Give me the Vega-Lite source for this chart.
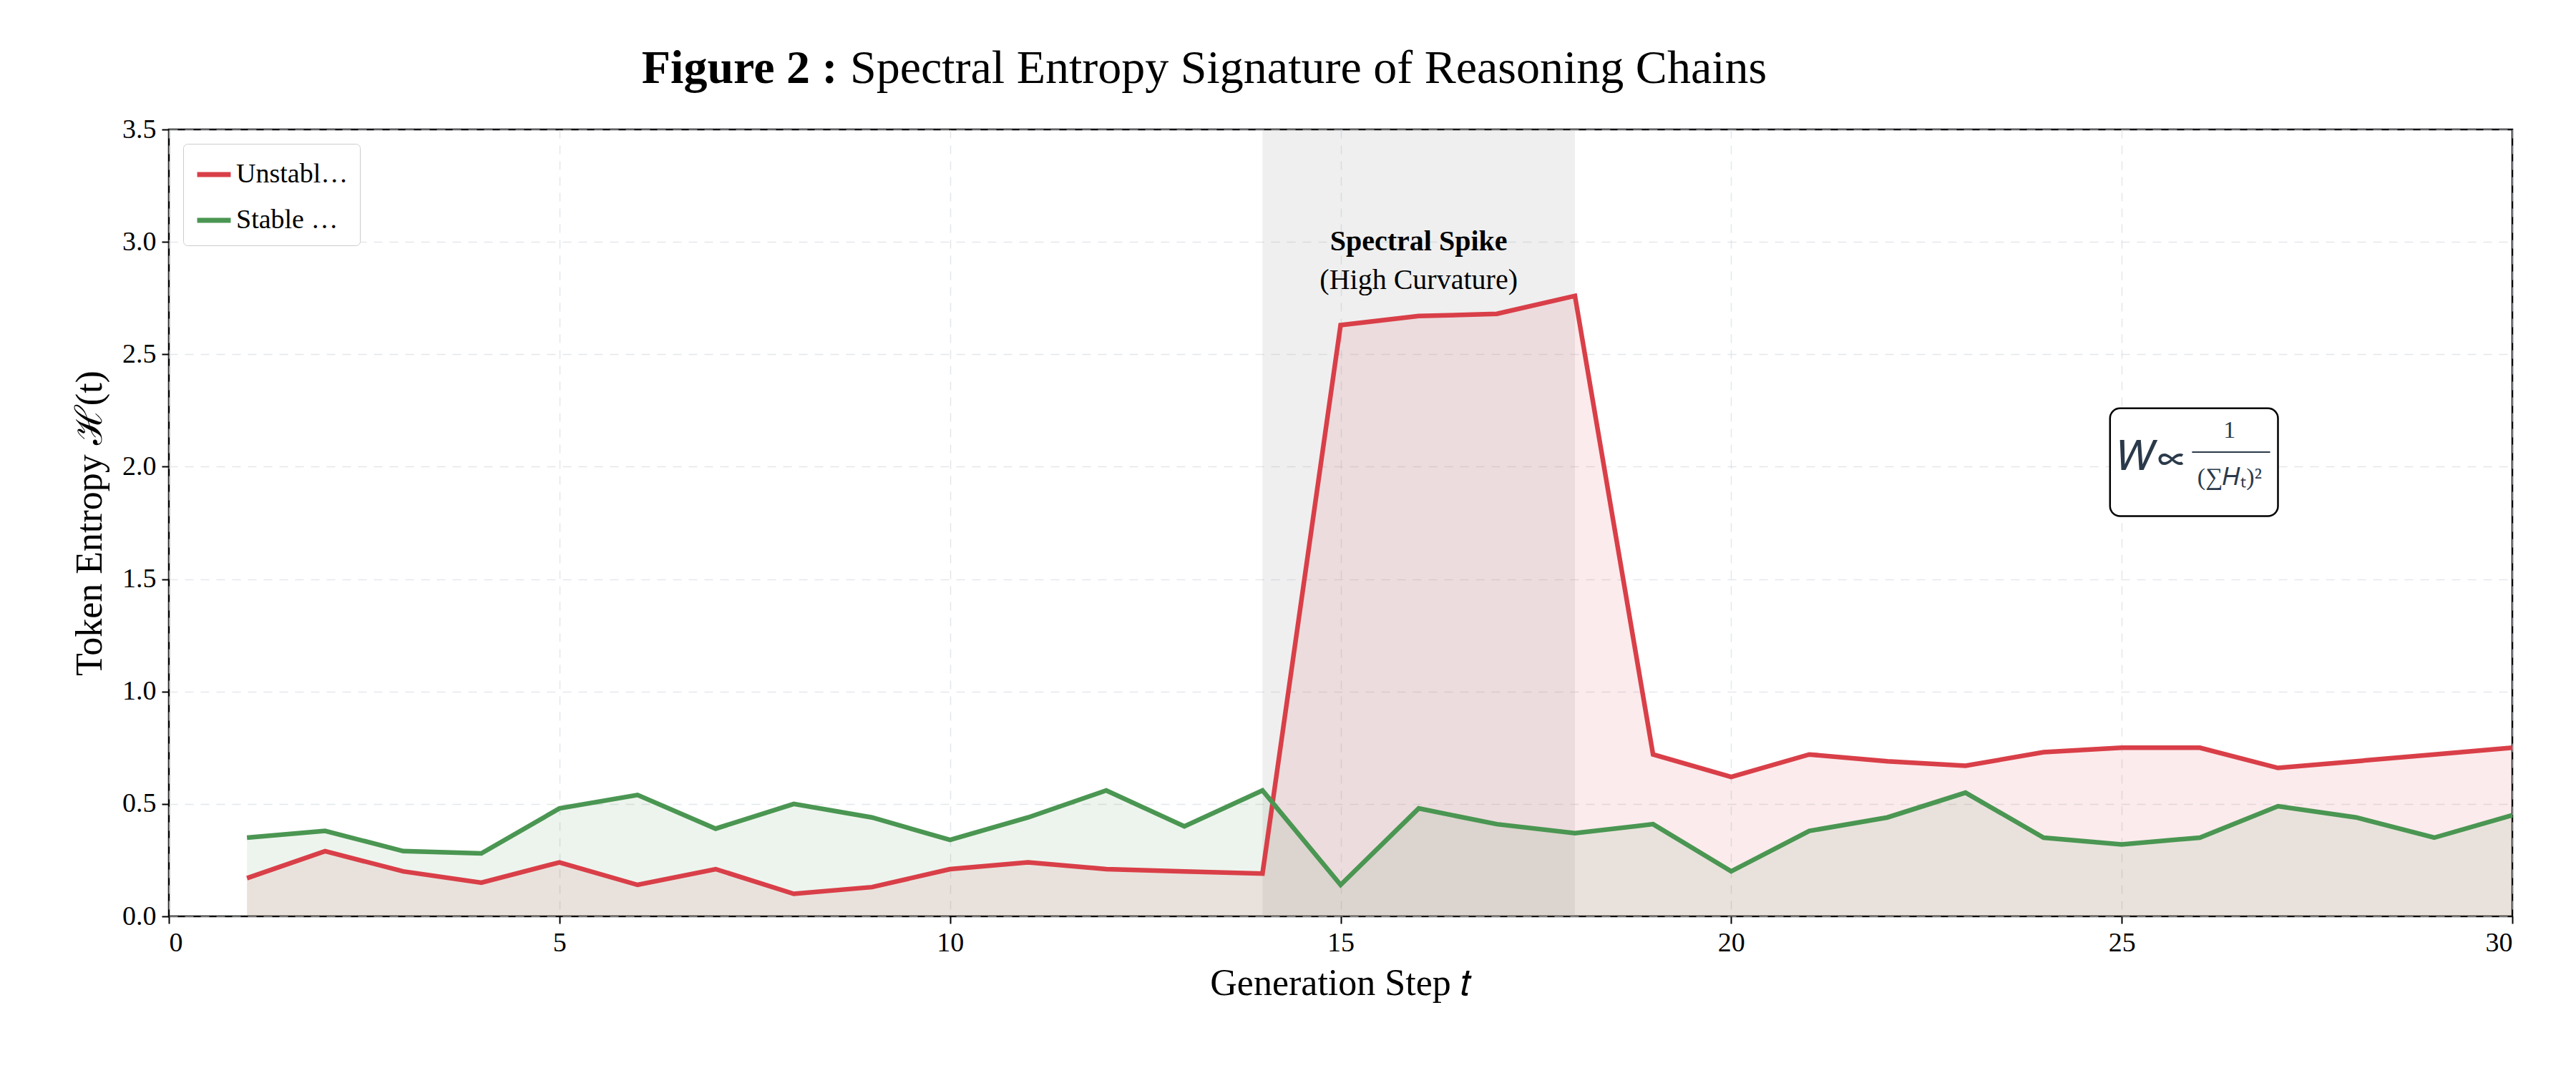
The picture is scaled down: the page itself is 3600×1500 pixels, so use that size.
{
  "$schema": "https://vega.github.io/schema/vega-lite/v6.json",
  "width": 3275,
  "height": 1100,
  "autosize": {"type": "none"},
  "padding": {"left": 236, "top": 181, "right": 89, "bottom": 219},
  "background": "white",
  "config": {
    "font": "Liberation Serif",
    "view": {"stroke": "black", "strokeWidth": 2.5},
    "axis": {
      "labelFont": "Liberation Serif", "labelFontSize": 38, "labelColor": "black",
      "titleFont": "Liberation Serif", "titleFontSize": 52, "titleFontWeight": "normal", "titleColor": "black",
      "gridColor": "#d9dde3", "gridDash": [12, 10], "gridWidth": 1.5, "gridOpacity": 0.7,
      "domain": false, "tickColor": "black", "tickSize": 10, "tickWidth": 2, "labelPadding": 8
    }
  },
  "datasets": {
    "chains": [
      {"t": 1, "series": "Unstable Path (Hallucination)", "H": 0.17},
      {"t": 2, "series": "Unstable Path (Hallucination)", "H": 0.29},
      {"t": 3, "series": "Unstable Path (Hallucination)", "H": 0.20},
      {"t": 4, "series": "Unstable Path (Hallucination)", "H": 0.15},
      {"t": 5, "series": "Unstable Path (Hallucination)", "H": 0.24},
      {"t": 6, "series": "Unstable Path (Hallucination)", "H": 0.14},
      {"t": 7, "series": "Unstable Path (Hallucination)", "H": 0.21},
      {"t": 8, "series": "Unstable Path (Hallucination)", "H": 0.10},
      {"t": 9, "series": "Unstable Path (Hallucination)", "H": 0.13},
      {"t": 10, "series": "Unstable Path (Hallucination)", "H": 0.21},
      {"t": 11, "series": "Unstable Path (Hallucination)", "H": 0.24},
      {"t": 12, "series": "Unstable Path (Hallucination)", "H": 0.21},
      {"t": 13, "series": "Unstable Path (Hallucination)", "H": 0.20},
      {"t": 14, "series": "Unstable Path (Hallucination)", "H": 0.19},
      {"t": 15, "series": "Unstable Path (Hallucination)", "H": 2.63},
      {"t": 16, "series": "Unstable Path (Hallucination)", "H": 2.67},
      {"t": 17, "series": "Unstable Path (Hallucination)", "H": 2.68},
      {"t": 18, "series": "Unstable Path (Hallucination)", "H": 2.76},
      {"t": 19, "series": "Unstable Path (Hallucination)", "H": 0.72},
      {"t": 20, "series": "Unstable Path (Hallucination)", "H": 0.62},
      {"t": 21, "series": "Unstable Path (Hallucination)", "H": 0.72},
      {"t": 22, "series": "Unstable Path (Hallucination)", "H": 0.69},
      {"t": 23, "series": "Unstable Path (Hallucination)", "H": 0.67},
      {"t": 24, "series": "Unstable Path (Hallucination)", "H": 0.73},
      {"t": 25, "series": "Unstable Path (Hallucination)", "H": 0.75},
      {"t": 26, "series": "Unstable Path (Hallucination)", "H": 0.75},
      {"t": 27, "series": "Unstable Path (Hallucination)", "H": 0.66},
      {"t": 28, "series": "Unstable Path (Hallucination)", "H": 0.69},
      {"t": 29, "series": "Unstable Path (Hallucination)", "H": 0.72},
      {"t": 30, "series": "Unstable Path (Hallucination)", "H": 0.75},
      {"t": 1, "series": "Stable Attractor (Correct)", "H": 0.35},
      {"t": 2, "series": "Stable Attractor (Correct)", "H": 0.38},
      {"t": 3, "series": "Stable Attractor (Correct)", "H": 0.29},
      {"t": 4, "series": "Stable Attractor (Correct)", "H": 0.28},
      {"t": 5, "series": "Stable Attractor (Correct)", "H": 0.48},
      {"t": 6, "series": "Stable Attractor (Correct)", "H": 0.54},
      {"t": 7, "series": "Stable Attractor (Correct)", "H": 0.39},
      {"t": 8, "series": "Stable Attractor (Correct)", "H": 0.50},
      {"t": 9, "series": "Stable Attractor (Correct)", "H": 0.44},
      {"t": 10, "series": "Stable Attractor (Correct)", "H": 0.34},
      {"t": 11, "series": "Stable Attractor (Correct)", "H": 0.44},
      {"t": 12, "series": "Stable Attractor (Correct)", "H": 0.56},
      {"t": 13, "series": "Stable Attractor (Correct)", "H": 0.40},
      {"t": 14, "series": "Stable Attractor (Correct)", "H": 0.56},
      {"t": 15, "series": "Stable Attractor (Correct)", "H": 0.14},
      {"t": 16, "series": "Stable Attractor (Correct)", "H": 0.48},
      {"t": 17, "series": "Stable Attractor (Correct)", "H": 0.41},
      {"t": 18, "series": "Stable Attractor (Correct)", "H": 0.37},
      {"t": 19, "series": "Stable Attractor (Correct)", "H": 0.41},
      {"t": 20, "series": "Stable Attractor (Correct)", "H": 0.20},
      {"t": 21, "series": "Stable Attractor (Correct)", "H": 0.38},
      {"t": 22, "series": "Stable Attractor (Correct)", "H": 0.44},
      {"t": 23, "series": "Stable Attractor (Correct)", "H": 0.55},
      {"t": 24, "series": "Stable Attractor (Correct)", "H": 0.35},
      {"t": 25, "series": "Stable Attractor (Correct)", "H": 0.32},
      {"t": 26, "series": "Stable Attractor (Correct)", "H": 0.35},
      {"t": 27, "series": "Stable Attractor (Correct)", "H": 0.49},
      {"t": 28, "series": "Stable Attractor (Correct)", "H": 0.44},
      {"t": 29, "series": "Stable Attractor (Correct)", "H": 0.35},
      {"t": 30, "series": "Stable Attractor (Correct)", "H": 0.45}
    ],
    "spike": [{"x0": 14, "x1": 18, "y0": 0, "y1": 3.5}],
    "box": [{"x0": 24.85, "x1": 27.0, "y0": 1.78, "y1": 2.26}]
  },
  "layer": [
    {
      "data": {"name": "spike"},
      "mark": {"type": "rect", "color": "#b0b0b0", "opacity": 0.2},
      "encoding": {
        "x": {"field": "x0", "type": "quantitative", "scale": {"domain": [0, 30], "nice": false}, "axis": {"title": "Generation Step 𝑡", "values": [0, 5, 10, 15, 20, 25, 30], "format": "d", "titlePadding": 12}},
        "x2": {"field": "x1"},
        "y": {"field": "y0", "type": "quantitative", "scale": {"domain": [0, 3.5], "nice": false}, "axis": {"title": "Token Entropy ℋ(t)", "values": [0, 0.5, 1, 1.5, 2, 2.5, 3, 3.5], "format": ".1f", "titlePadding": 18}},
        "y2": {"field": "y1"}
      }
    },
    {
      "data": {"name": "chains"},
      "mark": {"type": "area", "opacity": 0.1},
      "encoding": {
        "x": {"field": "t", "type": "quantitative"},
        "y": {"field": "H", "type": "quantitative", "stack": null},
        "color": {"field": "series", "type": "nominal",
          "scale": {"domain": ["Unstable Path (Hallucination)", "Stable Attractor (Correct)"], "range": ["#d93f48", "#4a9652"]},
          "legend": {"title": null, "orient": "none", "legendX": 20, "legendY": 20, "symbolType": "stroke", "symbolStrokeWidth": 7, "symbolSize": 2200, "symbolOpacity": 1,
            "labelFont": "Liberation Serif", "labelFontSize": 38, "labelColor": "black", "rowPadding": 18,
            "fillColor": "rgba(255,255,255,0.9)", "strokeColor": "#cccccc", "padding": 16, "cornerRadius": 6}}
      }
    },
    {
      "data": {"name": "chains"},
      "mark": {"type": "line", "strokeWidth": 6.5},
      "encoding": {
        "x": {"field": "t", "type": "quantitative"},
        "y": {"field": "H", "type": "quantitative"},
        "color": {"field": "series", "type": "nominal"}
      }
    },
    {
      "data": {"values": [{"x": 16, "y": 3.0, "label": "Spectral Spike"}]},
      "mark": {"type": "text", "fontSize": 40, "fontWeight": "bold", "font": "Liberation Serif", "color": "black"},
      "encoding": {
        "x": {"field": "x", "type": "quantitative"},
        "y": {"field": "y", "type": "quantitative"},
        "text": {"field": "label"}
      }
    },
    {
      "data": {"values": [{"x": 16, "y": 2.83, "label": "(High Curvature)"}]},
      "mark": {"type": "text", "fontSize": 40, "font": "Liberation Serif", "color": "black"},
      "encoding": {
        "x": {"field": "x", "type": "quantitative"},
        "y": {"field": "y", "type": "quantitative"},
        "text": {"field": "label"}
      }
    },
    {
      "data": {"name": "box"},
      "mark": {"type": "rect", "fill": "white", "stroke": "black", "strokeWidth": 2.5, "cornerRadius": 14},
      "encoding": {
        "x": {"field": "x0", "type": "quantitative"},
        "x2": {"field": "x1"},
        "y": {"field": "y0", "type": "quantitative"},
        "y2": {"field": "y1"}
      }
    },
    {
      "data": {"values": [
        {"x": 25.4, "y": 2.04, "label": "𝑊∝", "size": 58},
        {"x": 26.38, "y": 2.16, "label": "1", "size": 34},
        {"x": 26.38, "y": 1.95, "label": "(∑𝐻ₜ)²", "size": 34}
      ]},
      "mark": {"type": "text", "font": "Liberation Serif", "color": "#2b3a4a", "baseline": "middle"},
      "encoding": {
        "x": {"field": "x", "type": "quantitative"},
        "y": {"field": "y", "type": "quantitative"},
        "text": {"field": "label"},
        "size": {"field": "size", "type": "quantitative", "scale": null, "legend": null}
      }
    },
    {
      "data": {"values": [{"x0": 25.9, "x1": 26.9, "y": 2.065}]},
      "mark": {"type": "rule", "color": "#2b3a4a", "strokeWidth": 2},
      "encoding": {
        "x": {"field": "x0", "type": "quantitative"},
        "x2": {"field": "x1"},
        "y": {"field": "y", "type": "quantitative"}
      }
    },
    {
      "data": {"values": [{"x": 8.56, "y": 3.77, "label": "Figure 2 :"}]},
      "mark": {"type": "text", "font": "Liberation Serif", "fontSize": 66, "fontWeight": "bold", "color": "black", "clip": false, "baseline": "middle", "align": "right"},
      "encoding": {
        "x": {"field": "x", "type": "quantitative"},
        "y": {"field": "y", "type": "quantitative"},
        "text": {"field": "label"}
      }
    },
    {
      "data": {"values": [{"x": 8.72, "y": 3.77, "label": "Spectral Entropy Signature of Reasoning Chains"}]},
      "mark": {"type": "text", "font": "Liberation Serif", "fontSize": 66, "color": "black", "clip": false, "baseline": "middle", "align": "left"},
      "encoding": {
        "x": {"field": "x", "type": "quantitative"},
        "y": {"field": "y", "type": "quantitative"},
        "text": {"field": "label"}
      }
    }
  ]
}
